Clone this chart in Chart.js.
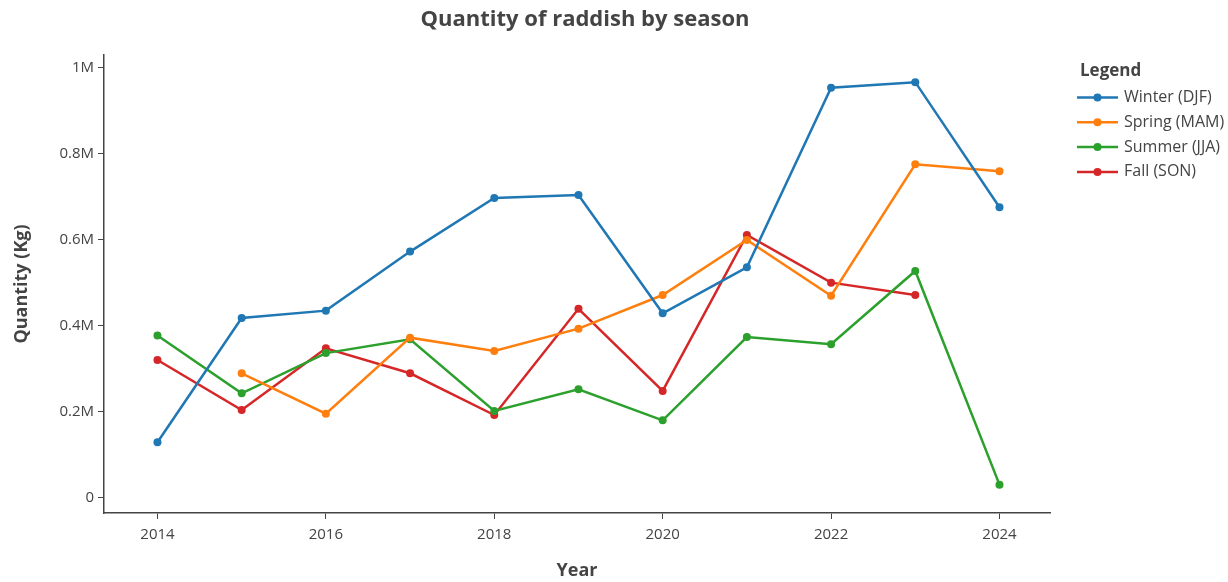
<!DOCTYPE html>
<html>
<head>
<meta charset="utf-8">
<script src="https://cdn.jsdelivr.net/npm/chart.js@4.4.0/dist/chart.umd.min.js"></script>
<style>
  html, body { margin: 0; padding: 0; background: #fff; }
  #wrap { width: 1228px; height: 582px; }
</style>
</head>
<body>
<div id="wrap"><canvas id="canvas" width="1228" height="582"></canvas></div>
<script>
var YEARS = [2014, 2015, 2016, 2017, 2018, 2019, 2020, 2021, 2022, 2023, 2024];
var WINTER = [129500, 418600, 435700, 573000, 697700, 704700, 429500, 536500, 954000, 967000, 676000];
var SPRING = [null, 290000, 196000, 372900, 341900, 393800, 472000, 600000, 470500, 776000, 760000];
var SUMMER = [378000, 243400, 337000, 369000, 202300, 252700, 180600, 374400, 357400, 528000, 31000];
var FALL = [321000, 204700, 348000, 290000, 193000, 440000, 249000, 611600, 500800, 472000, null];
var X_TICKS = [2014, 2016, 2018, 2020, 2022, 2024];
var Y_TICKS = [0, 200000, 400000, 600000, 800000, 1000000];

var FONT = "'Open Sans', 'Noto Sans', sans-serif";
var INK = '#444';

function points(values) {
    return YEARS.map(function(y, i) { return {x: y, y: values[i]}; });
}

function series(label, values, color) {
    return {
        label: label,
        data: points(values),
        yAxisID: 'y',
        borderColor: color,
        backgroundColor: color,
        borderWidth: 2.5,
        pointRadius: 4,
        pointBorderWidth: 0,
        pointHoverRadius: 4,
        tension: 0
    };
}

function fmtM(v) {
    if (v === 0) return '0';
    return (Math.round(v / 100000) / 10) + 'M';
}

// legend drawn at fixed spot right of the plot, like the source
var sideLegend = {
    id: 'sideLegend',
    afterDraw: function(chart) {
        var ctx = chart.ctx;
        ctx.save();
        ctx.fillStyle = INK;
        ctx.textBaseline = 'middle';
        ctx.textAlign = 'left';
        ctx.font = 'bold 17px ' + FONT;
        ctx.fillText('Legend', 1080, 71);
        ctx.font = '16px ' + FONT;
        chart.data.datasets.forEach(function(ds, i) {
            var y = 97.5 + i * 24.8;
            ctx.strokeStyle = ds.borderColor;
            ctx.lineWidth = 2.5;
            ctx.beginPath();
            ctx.moveTo(1077, y);
            ctx.lineTo(1118, y);
            ctx.stroke();
            ctx.fillStyle = ds.borderColor;
            ctx.beginPath();
            ctx.arc(1097.5, y, 4, 0, Math.PI * 2);
            ctx.fill();
            ctx.fillStyle = INK;
            ctx.fillText(ds.label, 1124, y);
        });
        ctx.restore();
    }
};

window.onload = function() {
    var ctx = document.getElementById('canvas').getContext('2d');
    window.myChart = new Chart(ctx, {
        type: 'line',
        data: {
            datasets: [
                series('Winter (DJF)', WINTER, '#1f77b4'),
                series('Spring (MAM)', SPRING, '#ff7f0e'),
                series('Summer (JJA)', SUMMER, '#2ca02c'),
                series('Fall (SON)', FALL, '#d62728')
            ]
        },
        plugins: [sideLegend],
        options: {
            responsive: false,
            animation: false,
            layout: { padding: { left: 0, right: 58, top: 0, bottom: 0 } },
            plugins: {
                legend: { display: false },
                tooltip: { enabled: false },
                title: {
                    display: true,
                    text: 'Quantity of raddish by season',
                    color: INK,
                    font: { family: FONT, size: 22, weight: 'bold', lineHeight: 1.2 },
                    padding: { top: 7, bottom: 21.6 }
                }
            },
            scales: {
                x: {
                    type: 'linear',
                    min: 2013.365,
                    max: 2024.6,
                    afterBuildTicks: function(axis) {
                        axis.ticks = X_TICKS.map(function(v) { return {value: v}; });
                    },
                    afterFit: function(axis) { axis.height = 69; },
                    ticks: {
                        color: INK,
                        font: { family: FONT, size: 15 },
                        padding: 7,
                        maxRotation: 0,
                        callback: function(v) { return String(v); }
                    },
                    grid: { drawOnChartArea: false, drawTicks: true, tickLength: 6, color: INK },
                    border: { display: true, color: INK, width: 1.5 },
                    title: {
                        display: true,
                        text: 'Year',
                        color: INK,
                        font: { family: FONT, size: 18, weight: 'bold', lineHeight: 1.2 },
                        padding: { top: 0, bottom: 0 }
                    }
                },
                y: {
                    type: 'linear',
                    min: -34900,
                    max: 1030200,
                    afterBuildTicks: function(axis) {
                        axis.ticks = Y_TICKS.map(function(v) { return {value: v}; });
                    },
                    afterFit: function(axis) { axis.width = 104; },
                    ticks: {
                        color: INK,
                        font: { family: FONT, size: 15 },
                        padding: 4,
                        callback: function(v) { return fmtM(v); }
                    },
                    grid: { drawOnChartArea: false, drawTicks: true, tickLength: 6, color: INK },
                    border: { display: true, color: INK, width: 1.5 },
                    title: {
                        display: true,
                        text: 'Quantity (Kg)',
                        color: INK,
                        font: { family: FONT, size: 18, weight: 'bold', lineHeight: 1.2 },
                        padding: { top: 11, bottom: 0 }
                    }
                },
                // empty strip on the right that holds the legend
                legendSpace: {
                    type: 'linear',
                    position: 'right',
                    display: true,
                    afterFit: function(axis) { axis.width = 120; },
                    ticks: { display: false },
                    grid: { display: false, drawTicks: false },
                    border: { display: false }
                }
            }
        }
    });
};
</script>
</body>
</html>
